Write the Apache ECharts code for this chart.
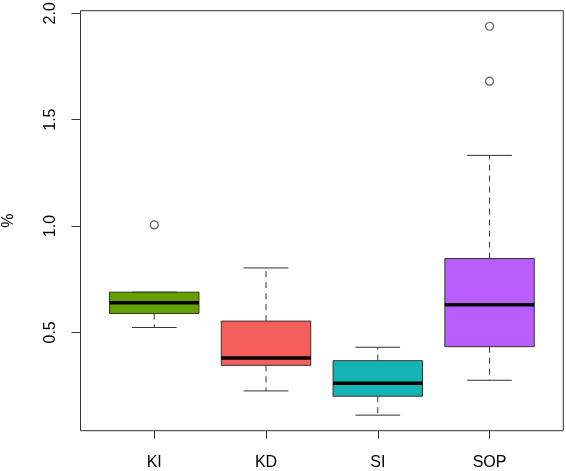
<!DOCTYPE html>
<html>
<head>
<meta charset="utf-8">
<script src="https://cdn.jsdelivr.net/npm/echarts@6/dist/echarts.min.js"></script>
<style>html,body{margin:0;padding:0;background:#fff}#c{width:566px;height:471px}</style>
</head>
<body>
<div id="c"></div>
<script>
// ---- data ----
var categories = ['KI', 'KD', 'SI', 'SOP'];
var lowerWhisker = [0.523, 0.225, 0.111, 0.275];
var q1 = [0.589, 0.345, 0.200, 0.433];
var median = [0.639, 0.380, 0.261, 0.630];
var q3 = [0.689, 0.553, 0.367, 0.847];
var upperWhisker = [0.689, 0.803, 0.430, 1.332];
var outliers = [[1.005], [], [], [1.939, 1.681]];
var yTicks = [0.5, 1.0, 1.5, 2.0];
var yName = '%';

// ---- styles ----
var boxColors = ['#66a000', '#f65e5b', '#14b3b5', '#b75efc'];
var FONT = '"Liberation Sans", Arial, Helvetica, sans-serif';

// R-like axis ranges (4% extension)
var allVals = lowerWhisker.concat(upperWhisker);
outliers.forEach(function (o) { allVals = allVals.concat(o); });
var dMin = Math.min.apply(null, allVals), dMax = Math.max.apply(null, allVals);
var ext = (dMax - dMin) * 0.04;
var xExt = (categories.length) * 0.04;

var boxData = categories.map(function (c, i) {
  return [i + 1, lowerWhisker[i], q1[i], median[i], q3[i], upperWhisker[i]];
});
var outlierData = [];
outliers.forEach(function (arr, i) { arr.forEach(function (v) { outlierData.push([i + 1, v]); }); });
var catPos = categories.map(function (c, i) { return i + 1; });

var LINE = '#333';

var chart = echarts.init(document.getElementById('c'), null, { renderer: 'canvas' });
chart.setOption({
  backgroundColor: '#fff',
  animation: false,
  grid: { left: 80.5, right: 2.7, top: 10.7, bottom: 40.3, containLabel: false, outerBoundsMode: 'none', show: true, borderColor: LINE, borderWidth: 1, backgroundColor: 'transparent' },
  xAxis: {
    type: 'value', min: 0.5 - xExt, max: categories.length + 0.5 + xExt,
    axisLine: { show: false }, splitLine: { show: false },
    axisTick: { show: true, customValues: catPos, length: 8, inside: false, lineStyle: { color: LINE } },
    axisLabel: { customValues: catPos, formatter: function (v) { return categories[Math.round(v) - 1]; }, margin: 24, fontSize: 16, color: '#000', fontFamily: FONT }
  },
  yAxis: {
    type: 'value', min: dMin - ext, max: dMax + ext,
    name: yName, nameLocation: 'middle', nameGap: 64, nameRotate: 90,
    nameTextStyle: { fontSize: 16, color: '#000', fontFamily: FONT },
    axisLine: { show: false }, splitLine: { show: false },
    axisTick: { show: true, customValues: yTicks, length: 9, lineStyle: { color: LINE } },
    axisLabel: { customValues: yTicks, rotate: 90, margin: 22, fontSize: 16, color: '#000', fontFamily: FONT, formatter: function (v) { return v.toFixed(1); } }
  },
  series: [
    {
      type: 'custom',
      data: boxData,
      encode: { x: 0, y: [1, 2, 3, 4, 5] },
      renderItem: function (params, api) {
        var i = params.dataIndex;
        var x = api.value(0);
        var pLow = api.coord([x, api.value(1)]);
        var pQ1 = api.coord([x, api.value(2)]);
        var pMed = api.coord([x, api.value(3)]);
        var pQ3 = api.coord([x, api.value(4)]);
        var pHigh = api.coord([x, api.value(5)]);
        var bw = api.size([0.8, 0])[0];
        var cw = bw / 2;
        var cx = pMed[0];
        var dash = { stroke: LINE, lineWidth: 1, lineDash: [6, 5] };
        var solid = { stroke: LINE, lineWidth: 1 };
        return {
          type: 'group',
          children: [
            { type: 'line', shape: { x1: cx, y1: pQ3[1], x2: cx, y2: pHigh[1] }, style: dash },
            { type: 'line', shape: { x1: cx, y1: pQ1[1], x2: cx, y2: pLow[1] }, style: dash },
            { type: 'line', shape: { x1: cx - cw / 2, y1: pHigh[1], x2: cx + cw / 2, y2: pHigh[1] }, style: solid },
            { type: 'line', shape: { x1: cx - cw / 2, y1: pLow[1], x2: cx + cw / 2, y2: pLow[1] }, style: solid },
            { type: 'rect', shape: { x: cx - bw / 2, y: pQ3[1], width: bw, height: pQ1[1] - pQ3[1] }, style: { fill: boxColors[i], stroke: LINE, lineWidth: 1 } },
            { type: 'line', shape: { x1: cx - bw / 2, y1: pMed[1], x2: cx + bw / 2, y2: pMed[1] }, style: { stroke: '#000', lineWidth: 3.5 } }
          ]
        };
      }
    },
    {
      type: 'scatter',
      data: outlierData,
      symbol: 'circle',
      symbolSize: 8,
      itemStyle: { color: 'transparent', borderColor: LINE, borderWidth: 1.2 }
    }
  ]
});
</script>
</body>
</html>
